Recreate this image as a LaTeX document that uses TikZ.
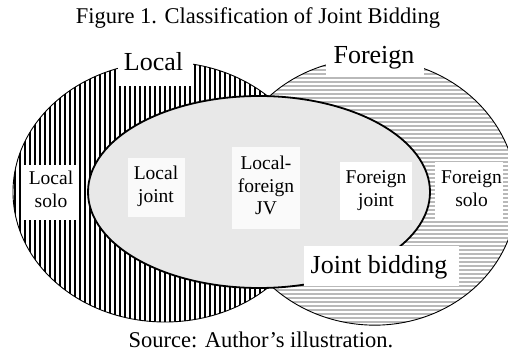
\documentclass[tikz,border=0pt]{standalone}
\usepackage{fontspec}
\setmainfont{Liberation Serif}
\begin{document}
\begin{tikzpicture}[x=1pt,y=-1pt,
  outline/.style={draw=black, line width=0.9pt},
  vhatch/.style={black, line width=1.15pt},
  hhatch/.style={gray!55, line width=1.3pt},
  jointshape/.style={fill=gray!18, draw=black, line width=1.8pt},
  labelbox/.style={fill=white},
  softbox/.style={fill=gray!4},
  big/.style={font=\fontsize{26}{30}\selectfont, anchor=base, inner sep=0pt},
  inner/.style={font=\fontsize{19.5}{23}\selectfont, anchor=base, inner sep=0pt},
  caption/.style={font=\fontsize{22.5}{26}\selectfont, anchor=base, inner sep=0pt}]
\useasboundingbox (0,0) rectangle (508,352);
% Foreign hatch
\begin{scope}
  \clip[rotate around={-6:(372,192)}] (372,192) ellipse [x radius=145pt, y radius=133pt];
  \foreach \yy in {50,54,...,340} \draw[hhatch] (200,\yy) -- (530,\yy);
\end{scope}
% Local hatch
\fill[white] (165,192) ellipse [x radius=152pt, y radius=130pt];
\begin{scope}
  \clip (165,192) ellipse [x radius=152pt, y radius=130pt];
  \foreach \xx in {10,15,...,320} \draw[vhatch] (\xx,55) -- (\xx,330);
\end{scope}
% outlines
\draw[outline] (165,192) ellipse [x radius=152pt, y radius=130pt];
\draw[outline, rotate around={-6:(372,192)}] (372,192) ellipse [x radius=145pt, y radius=133pt];
% joint
\draw[jointshape] (259,192) ellipse [x radius=171pt, y radius=96pt];
% boxes
\fill[labelbox] (118,45) rectangle (193,86);
\fill[labelbox] (326,40) rectangle (424,75);
\fill[labelbox] (304,246) rectangle (459,286.5);
\fill[labelbox] (23,165) rectangle (79,220);
\fill[softbox] (128,158) rectangle (185,217);
\fill[softbox] (232,147) rectangle (300,229);
\fill[labelbox] (340,162) rectangle (412,220);
\fill[labelbox] (435,162) rectangle (503,221);
% texts
\node[caption] (title) at (258,24) {Figure 1. Classification of Joint Bidding};
\node[caption] (source) at (261,347) {Source: Author’s illustration.};
\node[big] (local) at (153.5,71) {Local};
\node[big] (foreign) at (374,64) {Foreign};
\node[big] (jb) at (379,273) {Joint bidding};
\node[inner] (ls1) at (51,185) {Local};
\node[inner] (ls2) at (51,208) {solo};
\node[inner] (lj1) at (156,180) {Local};
\node[inner] (lj2) at (156,203) {joint};
\node[inner] (jv1) at (266,170) {Local-};
\node[inner] (jv2) at (266,192.5) {foreign};
\node[inner] (jv3) at (266,215) {JV};
\node[inner] (fj1) at (376,183.5) {Foreign};
\node[inner] (fj2) at (376,206.5) {joint};
\node[inner] (fs1) at (471.5,183.5) {Foreign};
\node[inner] (fs2) at (471.5,207) {solo};
\end{tikzpicture}
\end{document}
